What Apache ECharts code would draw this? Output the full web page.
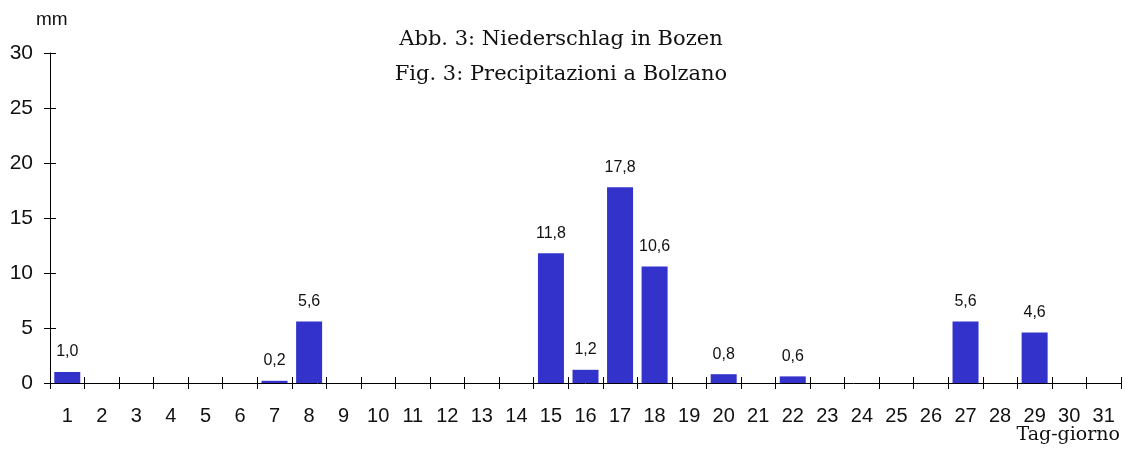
<!DOCTYPE html>
<html><head><meta charset="utf-8">
<script src="https://cdn.jsdelivr.net/npm/echarts@6/dist/echarts.min.js"></script>
<style>html,body{margin:0;padding:0;background:#fff}#c{width:1125px;height:449px}</style>
</head><body><div id="c"></div>
<script>
var days = ['1','2','3','4','5','6','7','8','9','10','11','12','13','14','15','16','17','18','19','20','21','22','23','24','25','26','27','28','29','30','31'];
var precip = [1.0,0,0,0,0,0,0.2,5.6,0,0,0,0,0,0,11.8,1.2,17.8,10.6,0,0.8,0,0.6,0,0,0,0,5.6,0,4.6,0,0];
var titleLines = ['Abb. 3: Niederschlag in Bozen','Fig. 3: Precipitazioni a Bolzano'];
var yUnit = 'mm';
var xName = 'Tag-giorno';

var chart = echarts.init(document.getElementById('c'));
var serif = 'DejaVu Serif';
chart.setOption({
  animation:false,
  backgroundColor:'#fff',
  title:{text:titleLines.join('\n'), left:556, top:17, textAlign:'center',
    textStyle:{fontFamily:serif,fontSize:21,fontWeight:'normal',color:'#111',lineHeight:35}},
  graphic:[
    {type:'text', left:36, top:10, style:{text:yUnit, font:'19px "Liberation Sans"', fill:'#111'}},
    {type:'text', right:5, top:426, style:{text:xName, font:'19px "'+serif+'"', fill:'#111'}}
  ],
  grid:{left:50,right:4,top:53,bottom:66,containLabel:false},
  xAxis:[{type:'category',data:days,boundaryGap:true,
    axisLine:{lineStyle:{color:'#000',width:1}},
    axisTick:{show:false},
    axisLabel:{fontFamily:'Liberation Sans',fontSize:20,color:'#111',margin:23,interval:0}},
   {type:'category',data:days,position:'bottom',boundaryGap:true,offset:-6,
    axisLine:{show:false},
    axisTick:{show:true,length:12,lineStyle:{color:'#000'}},
    axisLabel:{show:false}}],
  yAxis:[{type:'value',min:0,max:30,interval:5,
    axisLine:{show:true,lineStyle:{color:'#000'}},
    axisTick:{show:false},
    splitLine:{show:false},
    axisLabel:{fontFamily:'Liberation Sans',fontSize:21,color:'#111',margin:17}},
   {type:'value',min:0,max:30,interval:5,position:'left',offset:-6,
    axisLine:{show:false},
    axisTick:{show:true,length:12,lineStyle:{color:'#000'}},
    splitLine:{show:false},axisLabel:{show:false}}],
  series:[{type:'bar',data:precip,barWidth:26,itemStyle:{color:'#3333CC'},
    label:{show:true,position:'top',distance:12,fontFamily:'Liberation Sans',fontSize:16,color:'#111',
      formatter:function(p){return p.value?p.value.toFixed(1).replace('.',','):'';}}}]
});
</script></body></html>
